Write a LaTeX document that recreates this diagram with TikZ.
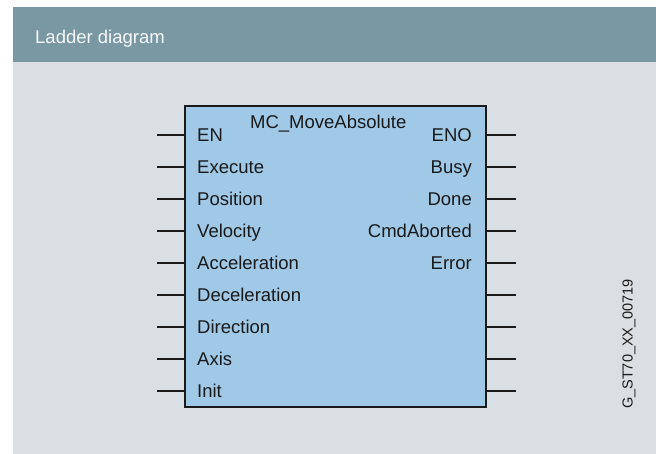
\documentclass[tikz,border=0pt]{standalone}
\usepackage{fontspec}
\setmainfont{Liberation Sans}
\definecolor{hdr}{HTML}{7A97A4}
\definecolor{panel}{HTML}{DADFE3}
\definecolor{fbfill}{HTML}{9FC9E7}
\definecolor{ink}{HTML}{1A1A1A}
\begin{document}
\begin{tikzpicture}[x=1pt,y=-1pt,
  fbbox/.style={draw=ink, line width=2.8pt, fill=fbfill, inner sep=0pt,
                minimum width=301pt, minimum height=301pt},
  pinline/.style={draw=ink, line width=2.8pt},
  lbl/.style={inner sep=0pt, text=ink, font=\fontsize{18.5}{22}\selectfont}]
  \useasboundingbox (0,0) rectangle (656,454);
  \fill[white] (0,0) rectangle (656,454);
  % panel and header band
  \fill[panel] (13,7) rectangle (656,454);
  \fill[hdr] (13,7) rectangle (656,62);
  \node[lbl, anchor=base west, text=white!94!hdr] (heading) at (35,43.3) {Ladder diagram};
  % function block
  \node[fbbox] (fb) at (335.5,256.5) {};
  \node[lbl, anchor=base] (fbname) at (328.3,128.3) {MC\_MoveAbsolute};
  % input and output pins
  \foreach \i in {0,...,8} {
    \coordinate (pinL\i) at (157,135+32*\i);
    \coordinate (pinR\i) at (516,135+32*\i);
    \draw[pinline] (pinL\i) -- (pinL\i -| fb.west);
    \draw[pinline] (pinR\i -| fb.east) -- (pinR\i);
  }
  \foreach \t [count=\i from 0] in {EN,Execute,Position,Velocity,Acceleration,Deceleration,Direction,Axis,Init}
    \node[lbl, anchor=base west] (in\i) at (197,141.6+32*\i) {\t};
  \foreach \t [count=\i from 0] in {ENO,Busy,Done,CmdAborted,Error}
    \node[lbl, anchor=base east] (out\i) at (472,141.6+32*\i) {\t};
  % drawing identifier
  \node[inner sep=0pt, anchor=base, rotate=90, text=ink, font=\fontsize{14.5}{16}\selectfont] (docid) at (632.7,344) {G\_ST70\_XX\_00719};
\end{tikzpicture}
\end{document}
